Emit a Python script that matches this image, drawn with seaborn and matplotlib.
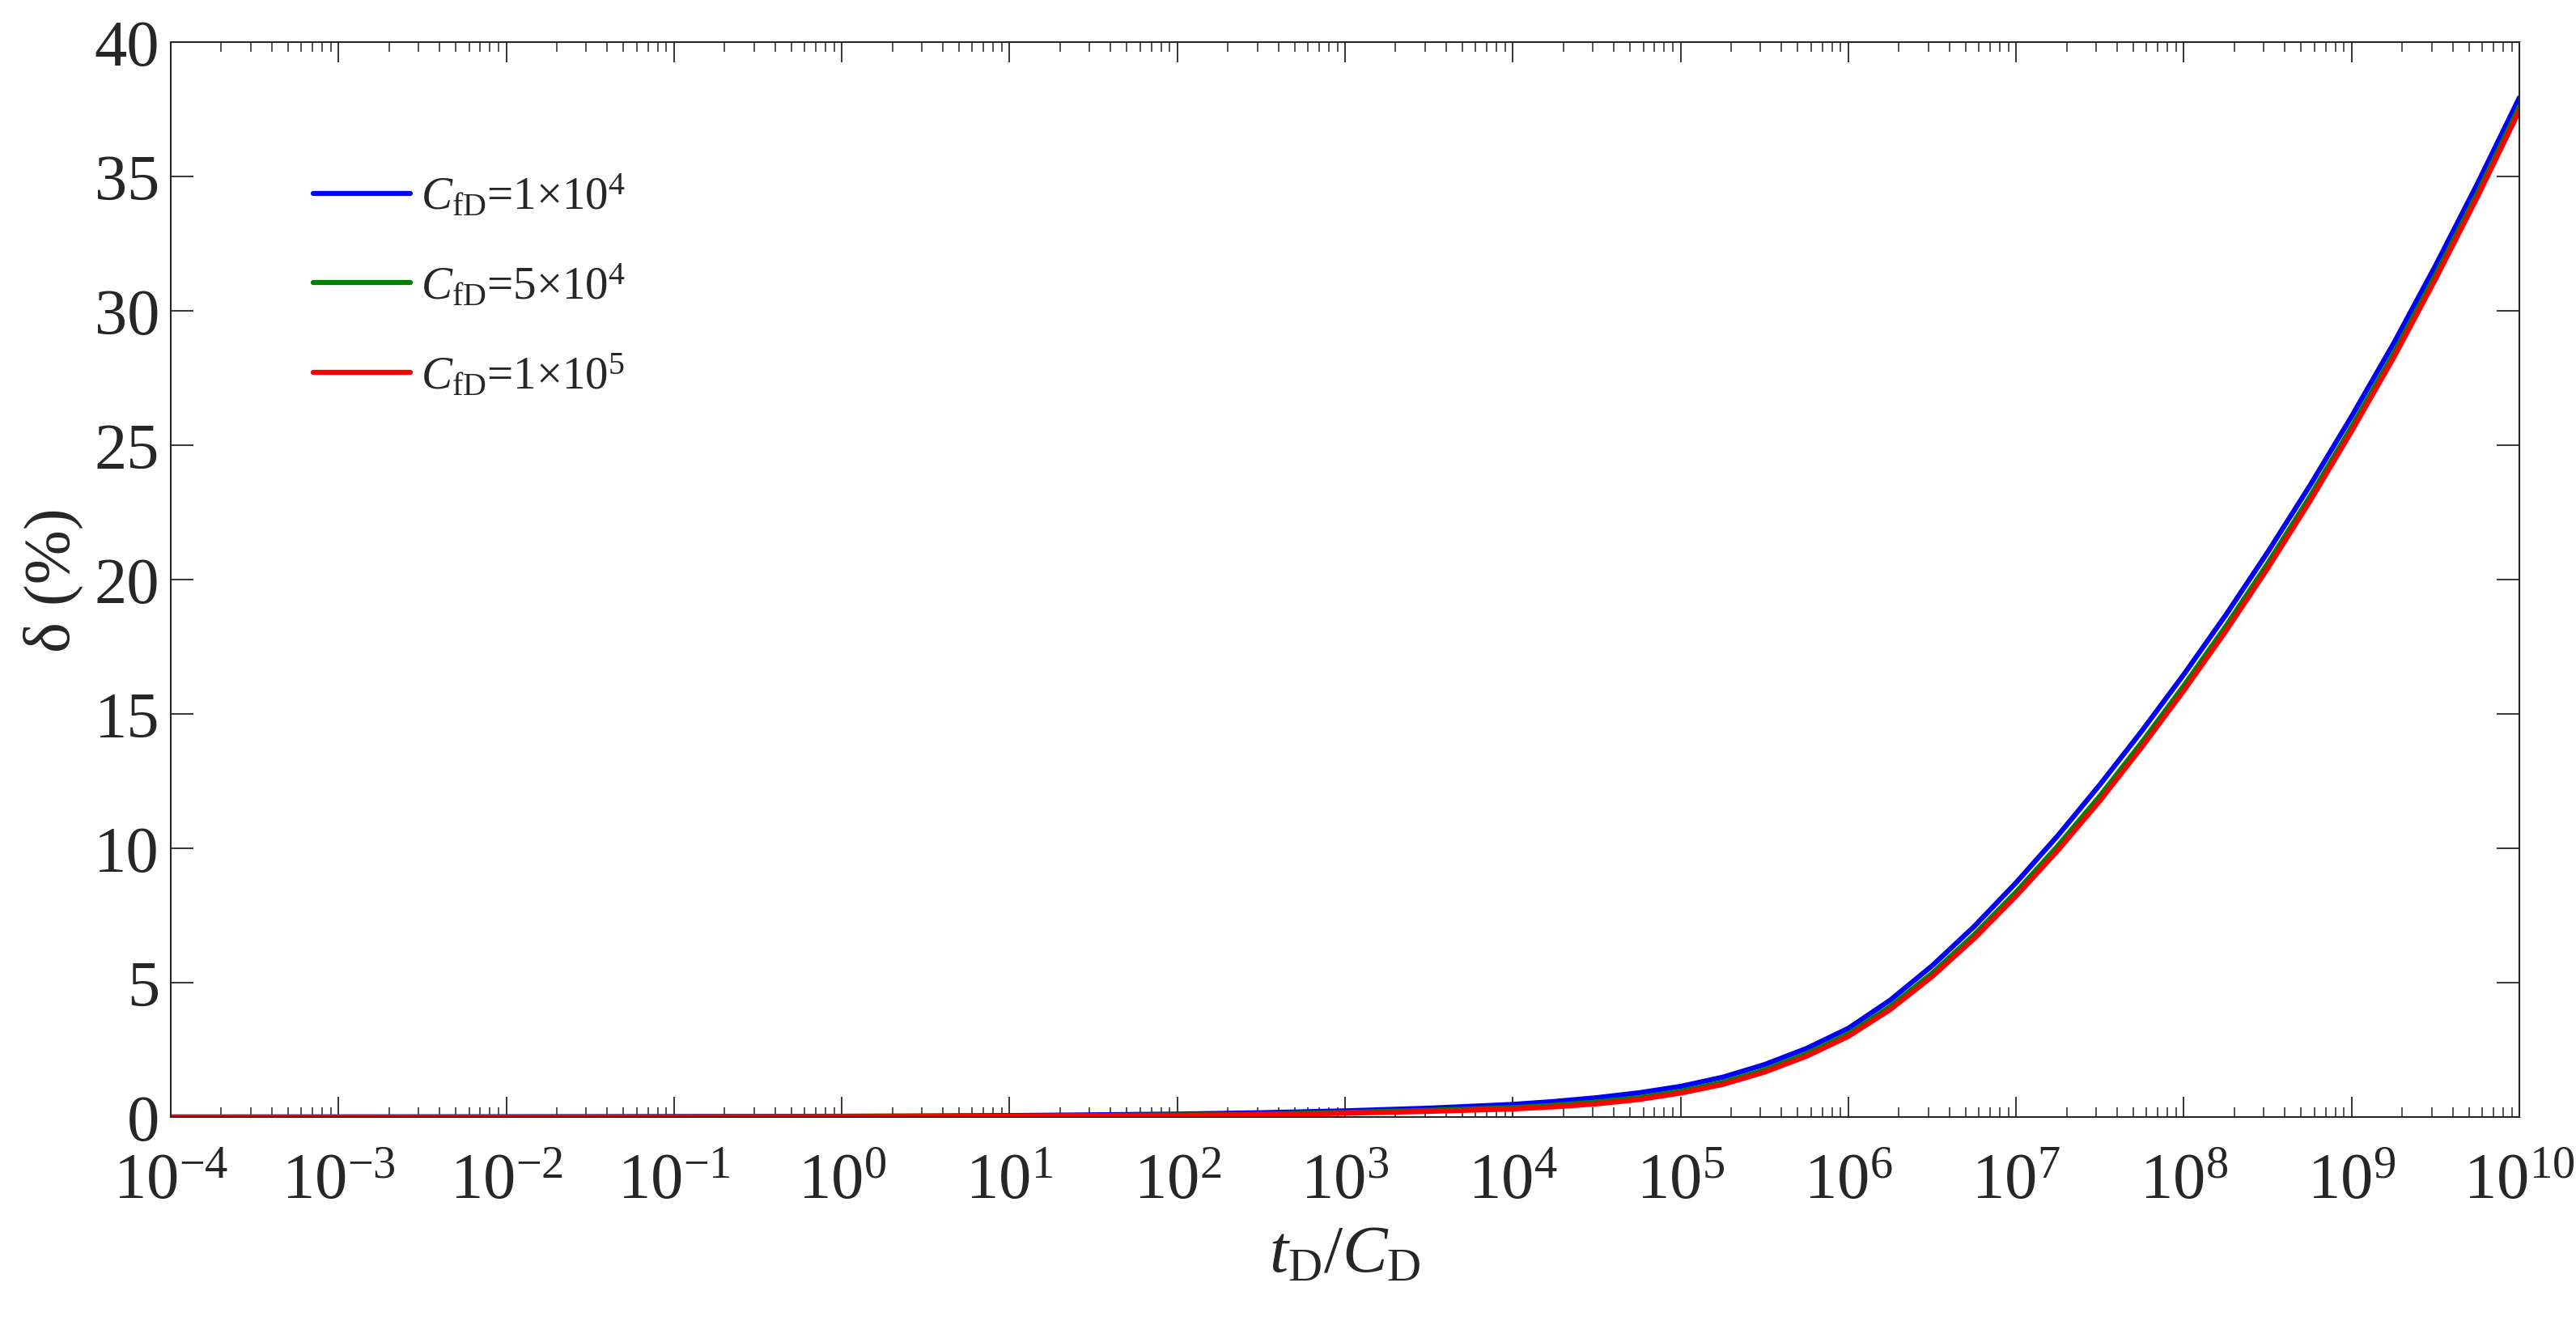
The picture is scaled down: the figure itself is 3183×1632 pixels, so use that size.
import numpy as np
import pandas as pd
import matplotlib
matplotlib.use('Agg')
import matplotlib.pyplot as plt
import matplotlib.ticker as mticker
import seaborn as sns

# exponents of t_D/C_D (x axis is log10)
log_tcd = [-4, -3, -2, -1, 0, 1, 2, 2.5, 3, 3.5, 4, 4.25, 4.5, 4.75, 5, 5.25, 5.5, 5.75,
           6, 6.25, 6.5, 6.75, 7, 7.25, 7.5, 7.75, 8, 8.25, 8.5, 8.75, 9, 9.25, 9.5, 9.75, 10]

# delta (%) for each C_fD
delta_1e4 = [0.000, 0.003, 0.008, 0.016, 0.030, 0.055, 0.11, 0.16, 0.23, 0.33, 0.47, 0.58, 0.72, 0.90,
             1.14, 1.48, 1.95, 2.55, 3.30, 4.35, 5.63, 7.09, 8.72, 10.48, 12.37, 14.37, 16.47,
             18.68, 21.02, 23.48, 26.07, 28.78, 31.68, 34.73, 37.93]
delta_5e4 = [0.000, 0.001, 0.003, 0.008, 0.017, 0.036, 0.075, 0.11, 0.17, 0.25, 0.35, 0.44, 0.56, 0.72,
             0.96, 1.29, 1.75, 2.35, 3.09, 4.11, 5.35, 6.78, 8.37, 10.10, 11.95, 13.95, 16.05,
             18.26, 20.60, 23.07, 25.68, 28.40, 31.33, 34.38, 37.59]
delta_1e5 = [0.000, 0.000, 0.000, 0.004, 0.012, 0.028, 0.06, 0.09, 0.14, 0.21, 0.30, 0.38, 0.49, 0.65,
             0.89, 1.21, 1.67, 2.26, 3.00, 4.00, 5.23, 6.64, 8.22, 9.93, 11.77, 13.77, 15.87,
             18.08, 20.42, 22.90, 25.52, 28.25, 31.18, 34.24, 37.45]

series_labels = [r'$\mathit{C}_{\mathrm{fD}}$=1×10$^{4}$',
                 r'$\mathit{C}_{\mathrm{fD}}$=5×10$^{4}$',
                 r'$\mathit{C}_{\mathrm{fD}}$=1×10$^{5}$']
series_colors = ['#0000ff', '#008000', '#ff0000']

frames = []
for lab, vals in zip(series_labels, [delta_1e4, delta_5e4, delta_1e5]):
    frames.append(pd.DataFrame({'t': np.power(10.0, log_tcd), 'delta': vals, 'case': lab}))
df = pd.concat(frames, ignore_index=True)

sns.set_style('ticks')
plt.rcParams['font.family'] = ['Liberation Serif', 'DejaVu Serif']
plt.rcParams['mathtext.fontset'] = 'custom'
plt.rcParams['mathtext.rm'] = 'Liberation Serif'
plt.rcParams['mathtext.it'] = 'Liberation Serif:italic'
plt.rcParams['mathtext.default'] = 'regular'
plt.rcParams['axes.linewidth'] = 1.5
plt.rcParams['xtick.direction'] = 'in'
plt.rcParams['ytick.direction'] = 'in'
plt.rcParams['xtick.top'] = True
plt.rcParams['ytick.right'] = True

fig = plt.figure(figsize=(31.83, 16.33), dpi=100)
ax = fig.add_axes([211 / 3183, 1 - 1381 / 1633, 2902 / 3183, 1328 / 1633])

sns.lineplot(data=df, x='t', y='delta', hue='case', hue_order=series_labels,
             palette=dict(zip(series_labels, series_colors)), linewidth=4.5, ax=ax)

ax.set_xscale('log')
ax.set_xlim(1e-4, 1e10)
ax.set_ylim(0, 40)
ax.xaxis.set_major_locator(mticker.LogLocator(base=10, numticks=30))
ax.xaxis.set_minor_locator(mticker.LogLocator(base=10, subs=np.arange(2, 10), numticks=300))
ax.xaxis.set_minor_formatter(mticker.NullFormatter())
ax.set_yticks(np.arange(0, 41, 5))

ax.tick_params(axis='x', which='major', length=18, width=1.3, labelsize=58, pad=32)
ax.tick_params(axis='x', which='minor', length=8.6, width=1.1)
ax.tick_params(axis='y', which='major', length=20, width=1.3, labelsize=58, pad=10)

ax.set_xlabel(r'$\mathit{t}_{\mathrm{D}}/\mathit{C}_{\mathrm{D}}$', fontsize=60)
ax.set_ylabel('δ (%)', fontsize=58)
ax.xaxis.set_label_coords(0.5, -0.1)
ax.yaxis.set_label_coords(-0.0372, 0.5)

handles, labels = ax.get_legend_handles_labels()
ax.legend(handles, labels, loc='center left', bbox_to_anchor=((387 - 211) / 2902, 1 - (354 - 53) / 1328),
          frameon=False, fontsize=41, handlelength=2.1, handletextpad=0.23,
          labelspacing=0.95, borderpad=0, borderaxespad=0)

fig.savefig('out.png', dpi=100)
